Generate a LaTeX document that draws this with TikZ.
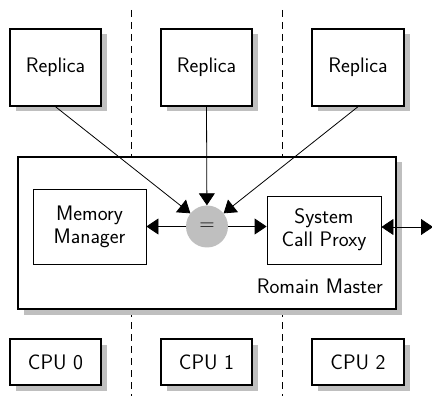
\documentclass[tikz,border=0pt]{standalone}
\usetikzlibrary{arrows.meta,shadows}
\begin{document}
\begin{tikzpicture}[x=1pt,y=-1pt,
  every node/.style={font=\sffamily\fontsize{21}{23}\selectfont},
  shbox/.style={draw=black, line width=1.4pt, fill=white, inner sep=0pt,
    drop shadow={shadow xshift=5.5pt, shadow yshift=-5.5pt, fill=black!25, opacity=1}},
  inbox/.style={draw=black, line width=0.8pt, fill=white, inner sep=0pt, align=center},
  sep/.style={dashed, dash pattern=on 7pt off 5pt, line width=0.7pt},
  arr/.style={line width=0.8pt, -{Triangle[length=12pt,width=16pt]}},
  darr/.style={line width=0.8pt, {Triangle[length=12pt,width=16pt]}-{Triangle[length=12pt,width=16pt]}}]
\useasboundingbox (0,0) rectangle (432,396);
\draw[sep] (131,10) -- (131,396);
\draw[sep] (282,10) -- (282,396);
\node[shbox, minimum width=91pt, minimum height=77pt] (rep1) at (55.5,67.5) {Replica};
\node[shbox, minimum width=91pt, minimum height=77pt] (rep2) at (206.5,67.5) {Replica};
\node[shbox, minimum width=92pt, minimum height=77pt] (rep3) at (358,67.5) {Replica};
\node[shbox, minimum width=378pt, minimum height=152pt] (master) at (207,233) {};
\node[anchor=base east, inner sep=0pt] (mlabel) at (383,294) {Romain Master};
\node[inbox, minimum width=113pt, minimum height=75pt] (mm) at (89.5,226.5) {Memory\\Manager};
\node[inbox, minimum width=114pt, minimum height=68pt] (scp) at (324,230) {System\\Call Proxy};
\node[circle, fill=black!25, minimum size=42pt, inner sep=0pt] (eq) at (207,226.5) {=};
\coordinate (out) at (433,227);
\draw[arr] (rep1.south) -- (eq);
\draw[arr] (rep2.south) -- (eq);
\draw[arr] (rep3.south) -- (eq);
\draw[arr] (eq) -- (mm.east |- eq);
\draw[arr] (eq) -- (scp.west |- eq);
\draw[darr] (scp.east |- out) -- (out);
\node[shbox, minimum width=91pt, minimum height=46pt] (cpu0) at (55.5,362) {CPU 0};
\node[shbox, minimum width=91pt, minimum height=46pt] (cpu1) at (206.5,362) {CPU 1};
\node[shbox, minimum width=92pt, minimum height=46pt] (cpu2) at (358,362) {CPU 2};
\end{tikzpicture}
\end{document}
